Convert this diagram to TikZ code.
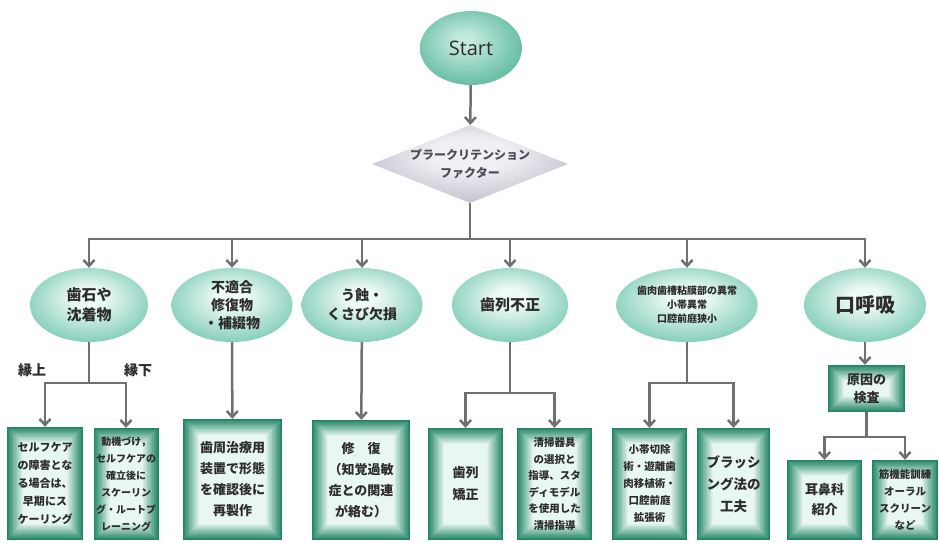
\documentclass[tikz,border=0pt]{standalone}
\usepackage{fontspec}
\newfontfamily\jp{Noto Sans CJK JP}
\newfontfamily\lat{Open Sans}
\usetikzlibrary{shapes.geometric,arrows.meta}
\definecolor{lncol}{RGB}{112,112,112}
\definecolor{txt}{RGB}{45,45,45}
\definecolor{dtxt}{RGB}{75,75,85}
\definecolor{boxdark}{RGB}{34,134,100}
\definecolor{boxlight}{RGB}{232,246,244}
\definecolor{ellin}{RGB}{238,250,247}
\definecolor{ellout}{RGB}{74,182,152}
\definecolor{stin}{RGB}{196,234,223}
\definecolor{stout}{RGB}{62,170,140}
\definecolor{dmin}{RGB}{240,240,244}
\definecolor{dmout}{RGB}{155,155,172}
\pgfdeclareradialshading{ellsh}{\pgfpoint{0bp}{6bp}}{color(0bp)=(ellin); color(6bp)=(ellin); color(40bp)=(ellout); color(50bp)=(ellout)}
\pgfdeclareradialshading{stsh}{\pgfpoint{-4bp}{6bp}}{color(0bp)=(stin); color(4bp)=(stin); color(38bp)=(stout); color(50bp)=(stout)}
\pgfdeclareradialshading{dmsh}{\pgfpoint{0bp}{8bp}}{color(0bp)=(dmin); color(10bp)=(dmin); color(45bp)=(dmout); color(50bp)=(dmout)}
\newcommand\jpf[2]{\jp\bfseries\fontsize{#1}{#2}\selectfont}
\tikzset{
  ln/.style={draw=lncol, line width=2.5pt},
  arr/.style={draw=lncol, line width=2.5pt, -{Straight Barb[length=6pt,width=11pt]}},
  ell/.style={ellipse, inner sep=0pt, shade, shading=ellsh, align=center, text=txt, minimum height=74pt},
  gbox/.style={rectangle, inner sep=0pt, align=center, text=txt, fill=boxdark,
    path picture={
      \foreach \i [evaluate=\i as \c using {int(100-\i*5)}] in {0,...,20}{
        \fill[boxdark!\c!boxlight]
          ([shift={(\i*0.8pt,\i*0.8pt)}]path picture bounding box.south west) rectangle
          ([shift={(-\i*0.8pt,-\i*0.8pt)}]path picture bounding box.north east);
      }
    }},
  lbl/.style={inner sep=0pt, text=txt, font=\jpf{14}{16}}
}
\begin{document}
\begin{tikzpicture}[x=1pt,y=-1pt]
\useasboundingbox (0,0) rectangle (939,543);
% top
\node[ellipse, inner sep=0pt, shade, shading=stsh, minimum width=102pt, minimum height=74pt, text=txt, font=\lat\fontsize{20}{22}\selectfont] (start) at (471,48) {Start};
\node[diamond, inner sep=0pt, shade, shading=dmsh, minimum width=196pt, minimum height=78pt] (fac) at (470,164) {};
\node[align=center, text=dtxt, font=\jpf{12}{18}] (factxt) at (fac.center) {プラークリテンション\\ファクター};
% ellipses
\node[ell, minimum width=118pt, font=\jpf{15}{20}] (e1) at (89,305) {歯石や\\沈着物};
\node[ell, minimum width=121pt, font=\jpf{14}{18}] (e2) at (232,305) {不適合\\修復物\\・補綴物};
\node[ell, minimum width=121pt, font=\jpf{14}{19}] (e3) at (362,305) {う蝕・\\くさび欠損};
\node[ell, minimum width=116pt, font=\jpf{15}{18}] (e4) at (510,305) {歯列不正};
\node[ell, minimum width=122pt, font=\jpf{10}{14}] (e5) at (687,305) {歯肉歯槽粘膜部の異常\\小帯異常\\口腔前庭狭小};
\node[ell, minimum width=122pt, font=\jpf{20}{22}] (e6) at (865,305) {口呼吸};
% labels
\node[lbl] (lu) at (32,370) {縁上};
\node[lbl] (ld) at (138,370) {縁下};
% boxes
\node[gbox, minimum width=76pt, minimum height=113pt, font=\jpf{11}{18}] (b1) at (45,483.5) {セルフケア\\の障害とな\\る場合は、\\早期にス\\ケーリング};
\node[gbox, minimum width=65pt, minimum height=112pt, font=\jpf{10}{17}] (b2) at (126,484) {動機づけ，\\セルフケアの\\確立後に\\スケーリン\\グ・ルートプ\\レーニング};
\node[gbox, minimum width=99pt, minimum height=121pt, font=\jpf{13}{21}] (b3) at (232.5,479.5) {歯周治療用\\装置で形態\\を確認後に\\再製作};
\node[gbox, minimum width=98pt, minimum height=120pt, font=\jpf{13}{21}] (b4) at (361,480) {修　復\\（知覚過敏\\症との関連\\が絡む）};
\node[gbox, minimum width=75pt, minimum height=112pt, font=\jpf{13}{22}] (b5) at (465.5,484) {歯列\\矯正};
\node[gbox, minimum width=75pt, minimum height=112pt, font=\jpf{10.5}{16.5}] (b6) at (554.5,484) {清掃器具\\の選択と\\指導、スタ\\ディモデル\\を使用した\\清掃指導};
\node[gbox, minimum width=75pt, minimum height=112pt, font=\jpf{10.5}{17}] (b7) at (649.5,484) {小帯切除\\術・遊離歯\\肉移植術・\\口腔前庭\\拡張術};
\node[gbox, minimum width=73pt, minimum height=112pt, font=\jpf{13.5}{22}] (b8) at (733.5,484) {ブラッシ\\ング法の\\工夫};
\node[gbox, minimum width=77pt, minimum height=47pt, font=\jpf{13}{18}] (kensa) at (866.5,388.5) {原因の\\検査};
\node[gbox, minimum width=75pt, minimum height=80pt, font=\jpf{13}{20}] (b9) at (824.5,500) {耳鼻科\\紹介};
\node[gbox, minimum width=66pt, minimum height=80pt, font=\jpf{10.5}{17}] (b10) at (905,500) {筋機能訓練\\オーラル\\スクリーン\\など};
% junctions
\coordinate (j0) at (470,239);
\coordinate (j1) at (89,383);
\coordinate (j4) at (510,393);
\coordinate (j5) at (687,383);
\coordinate (j6) at (866.5,437);
% connectors
\draw[arr] (start) -- (fac);
\draw[ln] (fac.south) -- (j0);
\foreach \e in {e1,e2,e3,e4,e5,e6} { \draw[arr] (j0) -| (\e.north); }
\draw[ln] (e1.south) -- (j1);
\draw[arr] (j1) -| (b1.north);
\draw[arr] (j1) -| (b2.north);
\draw[arr] (e2) -- (b3);
\draw[arr] (e3) -- (b4);
\draw[ln] (e4.south) -- (j4);
\draw[arr] (j4) -| (b5.north);
\draw[arr] (j4) -| (b6.north);
\draw[ln] (e5.south) -- (j5);
\draw[arr] (j5) -| (b7.north);
\draw[arr] (j5) -| (b8.north);
\draw[arr] (e6.south) -- (e6.south |- kensa.north);
\draw[ln] (kensa.south) -- (j6);
\draw[arr] (j6) -| (b9.north);
\draw[arr] (j6) -| (b10.north);
\end{tikzpicture}
\end{document}
